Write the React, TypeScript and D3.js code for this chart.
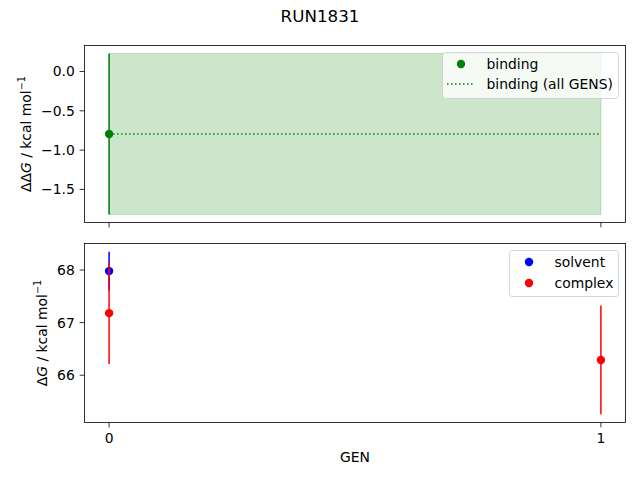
import * as d3 from 'd3'
import { useEffect } from 'react'

// values
const gens = [0, 1]
const bindingGens = [0]
const bindingValues = [-0.795]
const bindingErrors = [1.023]
const bindingAllValue = -0.795
const bindingAllError = 1.023
const solventGens = [0]
const solventValues = [67.98]
const solventErrors = [0.37]
const complexGens = [0, 1]
const complexValues = [67.18, 66.29]
const complexErrors = [0.965, 1.035]
const topTicks = [0.0, -0.5, -1.0, -1.5]
const bottomTicks = [66, 67, 68]

const W = 640
const H = 480
const left = 84.5
const right = 625.5
const top1 = 45.5
const bot1 = 222.5
const top2 = 243.5
const bot2 = 422.5
const FONT = 'DejaVu Sans, sans-serif'
const FS = 13.9
const R = 4.2

const fmtMinus = (s: string) => s.replace('-', '\u2212')

export default function App() {
  useEffect(() => {
    document.body.style.margin = '0'
  }, [])

  const x = d3.scaleLinear().domain([-0.05, 1.05]).range([left, right])

  const lo1 = bindingValues[0] - bindingErrors[0]
  const hi1 = bindingValues[0] + bindingErrors[0]
  const pad1 = (hi1 - lo1) * 0.05
  const y1 = d3.scaleLinear().domain([lo1 - pad1, hi1 + pad1]).range([bot1, top1])

  const all2 = [
    ...solventValues.map((v, i) => [v - solventErrors[i], v + solventErrors[i]]),
    ...complexValues.map((v, i) => [v - complexErrors[i], v + complexErrors[i]]),
  ].flat()
  const lo2 = d3.min(all2)!
  const hi2 = d3.max(all2)!
  const pad2 = (hi2 - lo2) * 0.05
  const y2 = d3.scaleLinear().domain([lo2 - pad2, hi2 + pad2]).range([bot2, top2])

  const area = d3.area<number>()
    .x(d => x(d))
    .y0(y1(bindingAllValue - bindingAllError))
    .y1(y1(bindingAllValue + bindingAllError))

  const xTicks = (yBottom: number, labels: boolean) => gens.map(g => (
    <g key={g}>
      <line x1={x(g)} x2={x(g)} y1={yBottom} y2={yBottom + 4.9} stroke="black" strokeWidth={0.8} />
      {labels && (
        <text x={x(g)} y={yBottom + 20.5} textAnchor="middle" fontSize={FS}>{g}</text>
      )}
    </g>
  ))

  return (
    <svg width={W} height={H} style={{ display: 'block' }} fontFamily={FONT}>
      <rect width={W} height={H} fill="white" />
      <text x={320} y={22} textAnchor="middle" fontSize={16.7}>RUN1831</text>

      {/* top panel */}
      <path d={area([0, 1]) ?? ''} fill="green" fillOpacity={0.2} stroke="green" strokeOpacity={0.2} />
      {bindingGens.map((g, i) => (
        <circle key={'bm' + i} cx={x(g)} cy={y1(bindingValues[i])} r={R} fill="green" />
      ))}
      {bindingGens.map((g, i) => (
        <line key={'be' + i} x1={x(g)} x2={x(g)}
          y1={y1(bindingValues[i] - bindingErrors[i])} y2={y1(bindingValues[i] + bindingErrors[i])}
          stroke="green" strokeWidth={1.5} />
      ))}
      <line x1={x(0)} x2={x(1)} y1={y1(bindingAllValue)} y2={y1(bindingAllValue)}
        stroke="green" strokeWidth={1.5} strokeDasharray="1.5,2.5" />
      <rect x={left} y={top1} width={right - left} height={bot1 - top1} fill="none" stroke="black" strokeWidth={0.8} />
      {topTicks.map(t => (
        <g key={t}>
          <line x1={left - 4.9} x2={left} y1={y1(t)} y2={y1(t)} stroke="black" strokeWidth={0.8} />
          <text x={left - 9.7} y={y1(t) + 5} textAnchor="end" fontSize={FS}>{fmtMinus(d3.format('.1f')(t))}</text>
        </g>
      ))}
      {xTicks(bot1, false)}
      <text transform={`translate(31,${(top1 + bot1) / 2}) rotate(-90)`} textAnchor="middle" fontSize={FS}>
        ΔΔ<tspan fontStyle="italic">G</tspan> / kcal mol<tspan dy={-6} fontSize={9.7}>−1</tspan>
      </text>
      <rect x={442.5} y={52.5} width={176} height={46} rx={3} fill="white" fillOpacity={0.8} stroke="#cccccc" strokeWidth={0.8} />
      <circle cx={461} cy={64} r={R} fill="green" />
      <line x1={447} x2={475} y1={84} y2={84} stroke="green" strokeWidth={1.5} strokeDasharray="1.5,2.5" />
      <text x={486.5} y={69} fontSize={FS}>binding</text>
      <text x={486.5} y={89} fontSize={FS}>binding (all GENS)</text>

      {/* bottom panel */}
      {solventGens.map((g, i) => (
        <circle key={'sm' + i} cx={x(g)} cy={y2(solventValues[i])} r={R} fill="blue" />
      ))}
      {complexGens.map((g, i) => (
        <circle key={'cm' + i} cx={x(g)} cy={y2(complexValues[i])} r={R} fill="red" />
      ))}
      {solventGens.map((g, i) => (
        <line key={'se' + i} x1={x(g)} x2={x(g)}
          y1={y2(solventValues[i] - solventErrors[i])} y2={y2(solventValues[i] + solventErrors[i])}
          stroke="blue" strokeWidth={1.5} />
      ))}
      {complexGens.map((g, i) => (
        <line key={'ce' + i} x1={x(g)} x2={x(g)}
          y1={y2(complexValues[i] - complexErrors[i])} y2={y2(complexValues[i] + complexErrors[i])}
          stroke="red" strokeWidth={1.5} />
      ))}
      <rect x={left} y={top2} width={right - left} height={bot2 - top2} fill="none" stroke="black" strokeWidth={0.8} />
      {bottomTicks.map(t => (
        <g key={t}>
          <line x1={left - 4.9} x2={left} y1={y2(t)} y2={y2(t)} stroke="black" strokeWidth={0.8} />
          <text x={left - 9.7} y={y2(t) + 5} textAnchor="end" fontSize={FS}>{t}</text>
        </g>
      ))}
      {xTicks(bot2, true)}
      <text x={(left + right) / 2} y={462} textAnchor="middle" fontSize={FS}>GEN</text>
      <text transform={`translate(47,${(top2 + bot2) / 2}) rotate(-90)`} textAnchor="middle" fontSize={FS}>
        Δ<tspan fontStyle="italic">G</tspan> / kcal mol<tspan dy={-6} fontSize={9.7}>−1</tspan>
      </text>
      <rect x={509.5} y={250.5} width={109} height={46} rx={3} fill="white" fillOpacity={0.8} stroke="#cccccc" strokeWidth={0.8} />
      <circle cx={529} cy={262} r={R} fill="blue" />
      <circle cx={529} cy={283} r={R} fill="red" />
      <text x={554.5} y={267} fontSize={FS}>solvent</text>
      <text x={554.5} y={288} fontSize={FS}>complex</text>
    </svg>
  )
}
